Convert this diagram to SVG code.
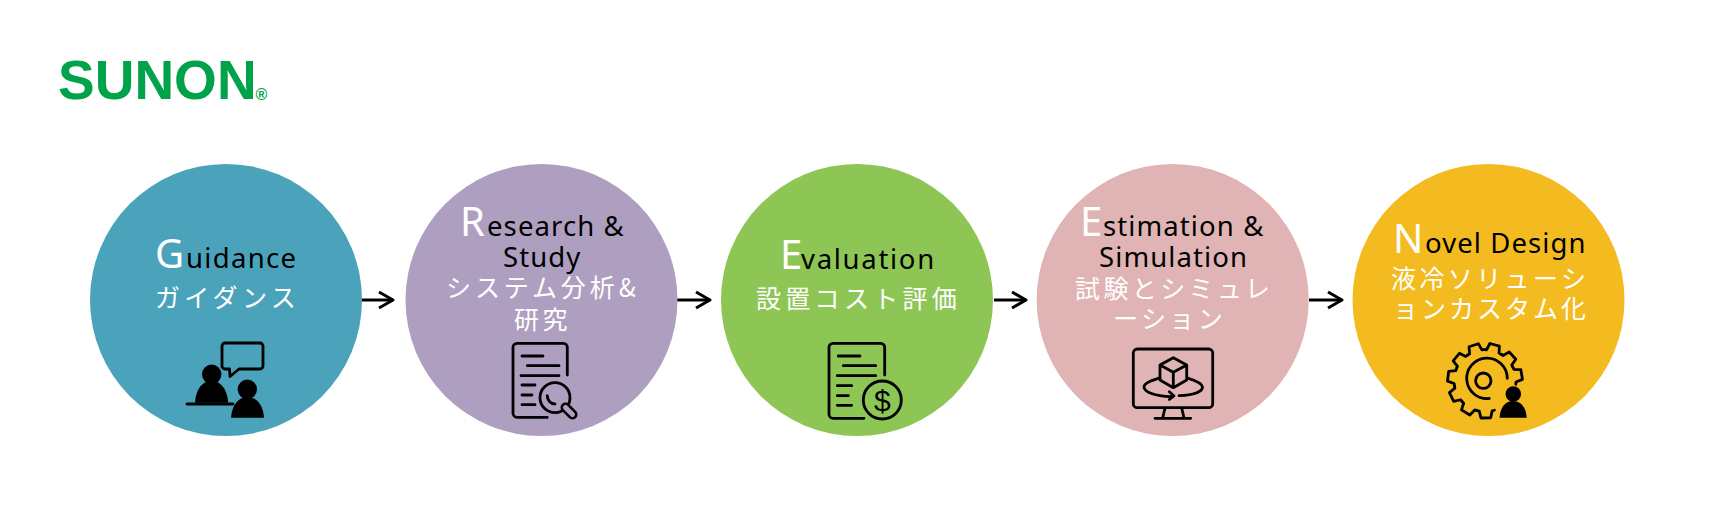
<svg xmlns="http://www.w3.org/2000/svg" xmlns:xlink="http://www.w3.org/1999/xlink" width="1715" height="521" viewBox="0 0 1715 521">
<style>
.en{font-family:"Noto Sans","Open Sans","Noto Sans CJK JP",sans-serif;font-size:27.5px;letter-spacing:1.1px;fill:#000}
.cap{font-size:40px;fill:#fff;letter-spacing:0}
.ja{font-family:"Noto Sans CJK JP","Noto Sans",sans-serif;font-size:25px;letter-spacing:3.4px;fill:#fff}
.wide{letter-spacing:4.3px}
.ic{fill:none;stroke:#000;stroke-width:2.8;stroke-linecap:round;stroke-linejoin:round}
.sld{fill:#000}
.logo{font-family:"Liberation Sans",Arial,sans-serif;font-weight:700;fill:#00a24a}
.cn{stroke:#000;stroke-width:3;fill:none;marker-end:url(#ah)}
</style>
<defs>
<marker id="ah" markerUnits="userSpaceOnUse" markerWidth="18" markerHeight="22" refX="16" refY="11" orient="auto"><path d="M2 3L16 11L2 19" fill="none" stroke="#000" stroke-width="3" stroke-linejoin="round"/></marker>
<path id="tooth" d="M29.75 -8.73L30.32 -6.45L37.18 -4.9L37.18 4.9L30.32 6.45L29.75 8.73"/>
</defs>
<rect width="1715" height="521" fill="#fff"/>
<g id="logo"><text class="logo" x="58" y="99" font-size="55">SUNON</text><text class="logo" x="255.5" y="100" font-size="16">®</text></g>
<g id="connectors">
<path class="cn" d="M362 300H393"/>
<path class="cn" d="M677 300H710"/>
<path class="cn" d="M994 300H1026"/>
<path class="cn" d="M1309 300H1342"/>
</g>
<g id="node-guidance">
<circle cx="226" cy="300" r="136" fill="#4aa3ba"/>
<text class="en cap" x="155" y="268">G</text>
<text class="en" x="186" y="268" style="letter-spacing:1.3px">uidance</text>
<text class="ja wide" x="155" y="307">ガイダンス</text>
<g class="ic"><path d="M225 343H260a3 3 0 0 1 3 3V366a3 3 0 0 1-3 3H239L230 376.5L229.5 369H225a3 3 0 0 1-3-3V346a3 3 0 0 1 3-3Z"/><path d="M187 404H233"/></g>
<g class="sld"><circle cx="211.7" cy="374.3" r="9.7"/><path d="M195 402.7C196 388 203 381 211.7 381C220 381 227 388 228.3 402.7Z"/><circle cx="247.3" cy="389.3" r="9.7"/><path d="M231 417.7C232 404 239 397 247.5 397C256 397 263 404 264 417.7Z"/></g>
</g>
<g id="node-research">
<circle cx="541.5" cy="300" r="136" fill="#ae9fc0"/>
<text class="en cap" x="460" y="236">R</text>
<text class="en" x="487" y="236">esearch &amp;</text>
<text class="en" x="503" y="267">Study</text>
<text class="ja" x="446" y="297" style="letter-spacing:3.9px">システム分析&amp;</text>
<text class="ja" x="514" y="329">研究</text>
<g class="ic"><path d="M547.3 417.3H517a4 4 0 0 1-4-4V347.3a4 4 0 0 1 4-4H563.3a4 4 0 0 1 4 4V375"/><path d="M522 356H543M527.3 365.7H559M521 375.7H559M522 385H535M522 395H532M522 404.7H535"/><circle cx="555" cy="397.7" r="15"/><path d="M547.3 395.7A8 8 0 0 0 555 404"/></g>
<path d="M565.5 407.5L572.5 414.5" stroke="#000" stroke-width="10" stroke-linecap="round"/><path d="M565.5 407.5L572.5 414.5" stroke="#ae9fc0" stroke-width="5" stroke-linecap="round"/>
</g>
<g id="node-evaluation">
<circle cx="857" cy="300" r="136" fill="#8dc655"/>
<text class="en cap" x="780" y="269">E</text>
<text class="en" x="801" y="269" style="letter-spacing:1.7px">valuation</text>
<text class="ja wide" x="756" y="308">設置コスト評価</text>
<g class="ic"><path d="M864 418.3H833a4 4 0 0 1-4-4V347.3a4 4 0 0 1 4-4H880.7a4 4 0 0 1 4 4V375"/><path d="M838.3 356H860M843.3 365.7H875.7M837.3 375.7H875.7M837.3 385.7H851.7M837.3 395.7H848.3M837.3 405.3H851.7"/><circle cx="882.3" cy="400" r="19"/></g>
<text x="874" y="411" font-family="Liberation Sans,sans-serif" font-size="30" fill="#000">$</text>
</g>
<g id="node-estimation">
<circle cx="1172.7" cy="300" r="136" fill="#e0b4b4"/>
<text class="en cap" x="1080" y="236">E</text>
<text class="en" x="1103" y="236">stimation &amp;</text>
<text class="en" x="1099" y="267">Simulation</text>
<text class="ja" x="1075" y="298">試験とシミュレ</text>
<text class="ja" x="1113" y="328">ーション</text>
<g class="ic"><rect x="1133.3" y="349" width="79.4" height="58.7" rx="4"/><path d="M1165 408L1162.7 418M1181.7 408L1184 418M1155 418.3H1190.7"/><path d="M1173.3 357.7L1186.7 365V380L1173.3 387.7L1160 380V365ZM1160 365L1173.3 372.3L1186.7 365M1173.3 372.3V387.7"/><path d="M1158.3 378.3C1149 381 1144 384 1144 387C1144 392 1155 396 1171 396.7M1169.3 391.7L1174 396L1169.3 399.5M1188.3 378.3C1197 381 1202.5 384 1202.5 387C1202.5 392 1193 395 1179 395.7"/></g>
</g>
<g id="node-novel">
<circle cx="1488.5" cy="300" r="136" fill="#f3bb1f"/>
<text class="en cap" x="1393" y="253">N</text>
<text class="en" x="1425" y="253">ovel Design</text>
<text class="ja" x="1391" y="288">液冷ソリューシ</text>
<text class="ja" x="1393" y="318" style="letter-spacing:3px">ョンカスタム化</text>
<g class="ic"><use xlink:href="#tooth" href="#tooth" transform="translate(1485 380.7) rotate(-9.6)"/><use xlink:href="#tooth" href="#tooth" transform="translate(1485 380.7) rotate(-42.3)"/><use xlink:href="#tooth" href="#tooth" transform="translate(1485 380.7) rotate(-75)"/><use xlink:href="#tooth" href="#tooth" transform="translate(1485 380.7) rotate(-107.7)"/><use xlink:href="#tooth" href="#tooth" transform="translate(1485 380.7) rotate(-140.5)"/><use xlink:href="#tooth" href="#tooth" transform="translate(1485 380.7) rotate(-173.2)"/><use xlink:href="#tooth" href="#tooth" transform="translate(1485 380.7) rotate(154.1)"/><use xlink:href="#tooth" href="#tooth" transform="translate(1485 380.7) rotate(121.4)"/><use xlink:href="#tooth" href="#tooth" transform="translate(1485 380.7) rotate(88.7)"/><circle cx="1483.3" cy="380.7" r="7.7"/><path d="M1507.3 378.3A20.3 20.3 0 1 0 1489.3 398.5"/></g>
<g class="sld"><circle cx="1513.3" cy="394" r="7.8"/><path d="M1499.5 417.7C1500.5 406 1506 401 1513 401C1520 401 1526 406 1526.7 417.7Z"/></g>
</g>
</svg>
